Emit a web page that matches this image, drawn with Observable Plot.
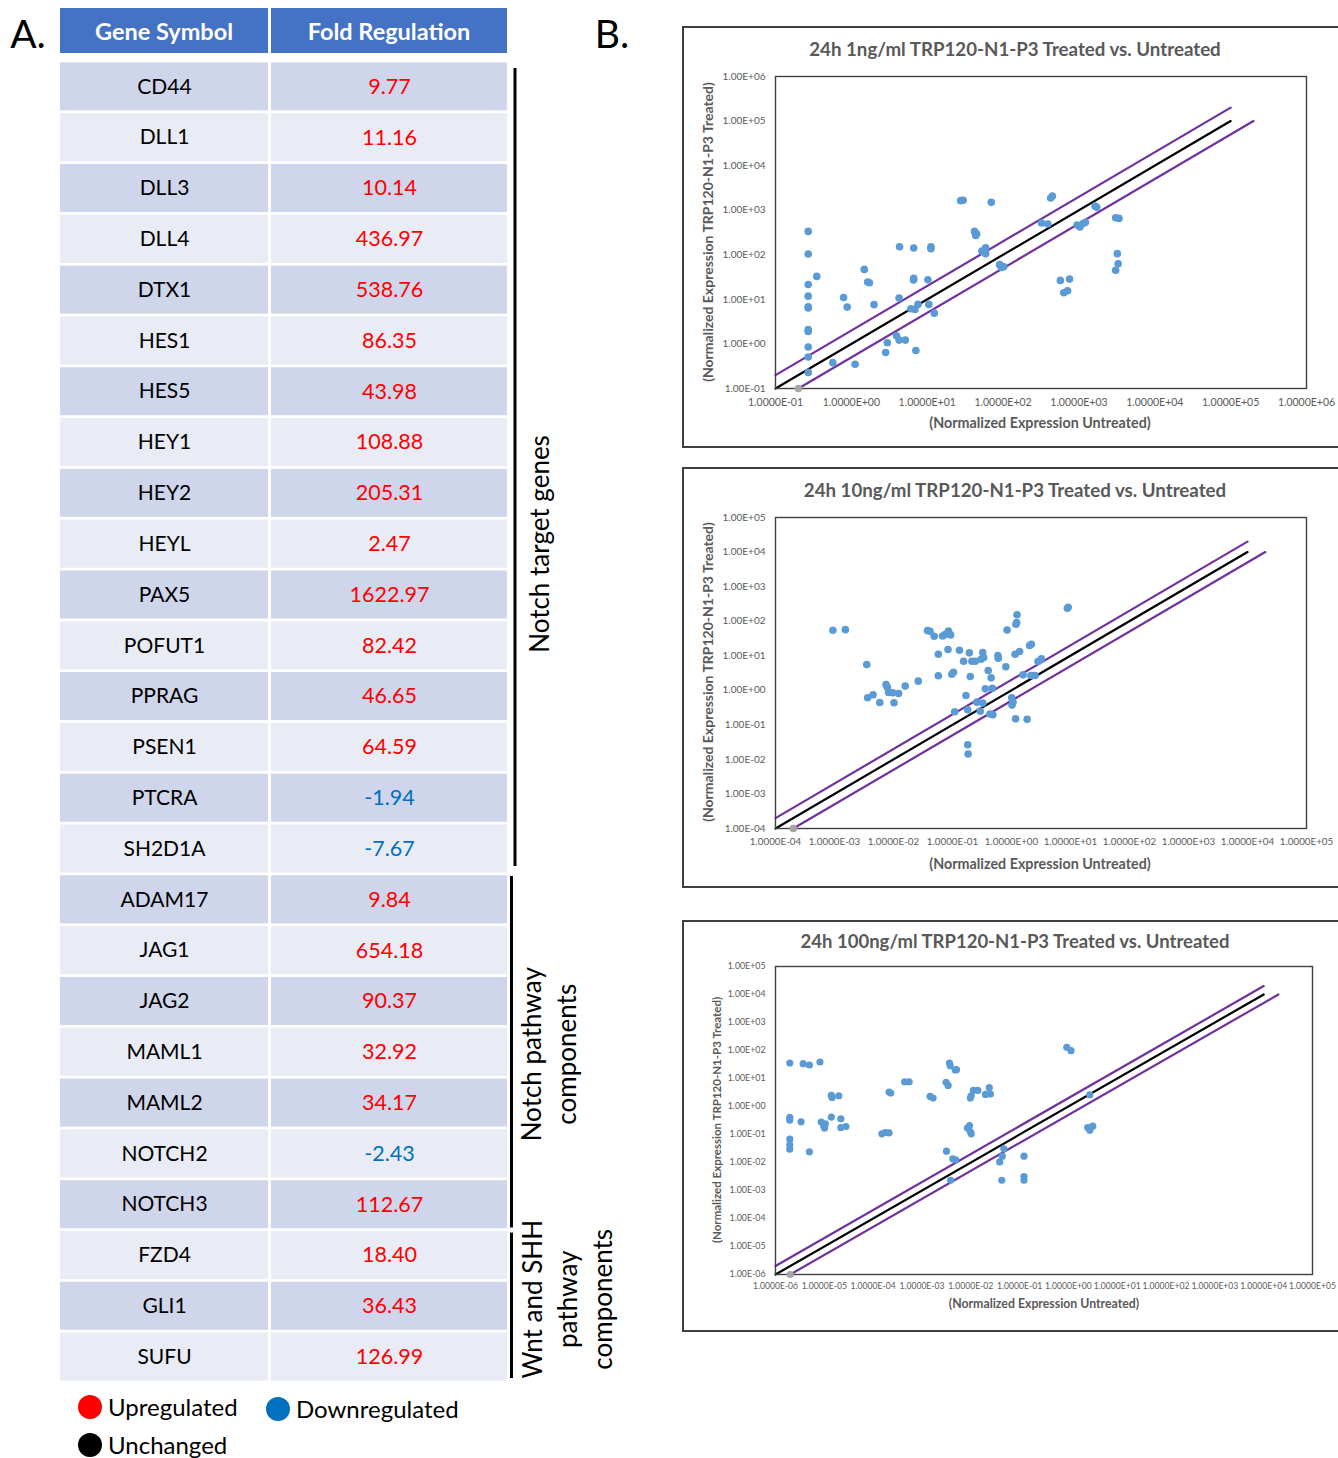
<!DOCTYPE html>
<html>
<head>
<meta charset="utf-8">
<script src="https://cdn.jsdelivr.net/npm/d3@7"></script>
<script src="https://cdn.jsdelivr.net/npm/@observablehq/plot@0.6"></script>
<style>
  html, body { margin: 0; padding: 0; background: #fff; overflow: hidden; }
  #root { position: relative; width: 1338px; height: 1458px; overflow: hidden; background: #fff; font-family: Lato, "Open Sans", sans-serif; }
  #root svg { overflow: visible; }
</style>
</head>
<body>
<div id="root"></div>
<script>
// ---------------- DATA ----------------
const genes = ["CD44","DLL1","DLL3","DLL4","DTX1","HES1","HES5","HEY1","HEY2","HEYL","PAX5","POFUT1","PPRAG","PSEN1","PTCRA","SH2D1A","ADAM17","JAG1","JAG2","MAML1","MAML2","NOTCH2","NOTCH3","FZD4","GLI1","SUFU"];
const foldRegulation = [9.77,11.16,10.14,436.97,538.76,86.35,43.98,108.88,205.31,2.47,1622.97,82.42,46.65,64.59,-1.94,-7.67,9.84,654.18,90.37,32.92,34.17,-2.43,112.67,18.40,36.43,126.99];
const tableHeaders = ["Gene Symbol", "Fold Regulation"];
const groupLabels = ["Notch target genes", "Notch pathway\ncomponents", "Wnt and SHH\npathway\ncomponents"];
const groupSizes = [16, 7, 3];
const legendLabels = ["Upregulated", "Downregulated", "Unchanged"];
const legendColors = ["#FF0000", "#0070C0", "#000000"];

// Panel 1: 24h 1ng/ml
const p1Untreated = [0.27,0.27,0.35,0.27,0.27,0.27,0.27,0.27,0.27,0.27,0.27,0.27,0.57,1.12,0.79,0.88,1.48,1.64,1.73,1.99,2.83,2.98,3.94,4.26,5.15,4.26,4.32,6.64,6.08,6.64,6.6,6.9,7.55,7.08,10.2,10.5,11.2,11.2,12.4,27.6,29.8,70,42,44.8,43.6,52.5,58.9,58.9,90,95,102,321,389,424,447,569,631,708,752,946,1033,1148,1219,1633,1718,3048,3373,3206,3289,3048];
const p1Treated   = [335,104,32.7,21.6,11.8,6.8,6.4,2.1,1.9,0.85,0.51,0.23,0.38,0.35,11.0,6.7,47,24.4,23.6,7.6,0.64,1.06,1.52,1.22,1.22,10.7,152,142,6.15,29.5,27.1,5.9,7.7,0.71,27.5,7.7,152,137,4.9,1637,1667,1503,335,297,272,121,144,106,60,52,54,516,490,1879,2080,26.6,14.1,15.6,28.5,466,420,507,535,1242,1159,679,656,106,63,44.7];
const p1GrayX = [0.2], p1GrayY = [0.1];
const p1Ticks = [0.1,1,10,100,1e3,1e4,1e5,1e6];
const p1XTickLabels = ["1.0000E-01","1.0000E+00","1.0000E+01","1.0000E+02","1.0000E+03","1.0000E+04","1.0000E+05","1.0000E+06"];
const p1YTickLabels = ["1.00E-01","1.00E+00","1.00E+01","1.00E+02","1.00E+03","1.00E+04","1.00E+05","1.00E+06"];
const p1CenterX = [0.1, 1e5], p1CenterY = [0.1, 1e5];
const p1UpperX = [0.1, 1e5], p1UpperY = [0.2, 2e5];
const p1LowerX = [0.2, 2e5], p1LowerY = [0.1, 1e5];

// Panel 2: 24h 10ng/ml
const p2Untreated = [0.00094,0.00153,0.00352,0.00364,0.00451,0.00585,0.00748,0.00785,0.00824,0.0097,0.0102,0.0122,0.0158,0.0263,0.0377,0.0416,0.049,0.0575,0.0575,0.0679,0.0748,0.0839,0.0853,0.0927,0.0973,0.104,0.109,0.131,0.154,0.169,0.181,0.181,0.184,0.193,0.2,0.213,0.243,0.259,0.295,0.305,0.326,0.326,0.337,0.36,0.403,0.431,0.452,0.474,0.483,0.587,0.597,0.802,0.841,1.01,1.02,1.06,1.15,1.17,1.19,1.22,1.24,1.37,1.57,1.84,2.03,2.17,2.13,2.51,2.82,3.21,8.85,9.14];
const p2Treated   = [54.5,56.9,5.56,0.605,0.74,0.445,1.47,1.23,0.863,0.845,0.435,0.809,1.32,1.84,53.3,50.9,36.6,11.0,2.62,37.4,40.8,15.1,52.1,40.0,2.92,3.34,0.239,14.4,6.93,0.708,0.273,0.0266,0.0143,12.1,2.5,6.93,6.93,0.454,0.249,7.93,12.4,0.425,8.85,1.1,3.73,0.205,2.29,1.15,0.196,10.1,8.47,4.76,55.7,0.605,0.372,0.454,11.0,0.15,81.3,90.8,154,13.2,2.8,0.144,19.7,21.5,2.67,2.67,6.79,8.11,236,251];
const p2GrayX = [2e-4], p2GrayY = [1e-4];
const p2Ticks = [1e-4,1e-3,1e-2,1e-1,1,10,100,1e3,1e4,1e5];
const p2XTickLabels = ["1.0000E-04","1.0000E-03","1.0000E-02","1.0000E-01","1.0000E+00","1.0000E+01","1.0000E+02","1.0000E+03","1.0000E+04","1.0000E+05"];
const p2YTickLabels = ["1.00E-04","1.00E-03","1.00E-02","1.00E-01","1.00E+00","1.00E+01","1.00E+02","1.00E+03","1.00E+04","1.00E+05"];
const p2CenterX = [1e-4, 1e4], p2CenterY = [1e-4, 1e4];
const p2UpperX = [1e-4, 1e4], p2UpperY = [2e-4, 2e4];
const p2LowerX = [2e-4, 2e4], p2LowerY = [1e-4, 1e4];

// Panel 3: 24h 100ng/ml
const p3Untreated = [1.96e-6,3.69e-6,4.95e-6,8.13e-6,1.96e-6,1.96e-6,3.34e-6,1.96e-6,1.96e-6,1.96e-6,4.95e-6,8.63e-6,9.7e-6,1.01e-5,1.05e-5,1.39e-5,1.39e-5,1.44e-5,1.98e-5,2.18e-5,2.18e-5,2.77e-5,1.51e-4,1.77e-4,2.12e-4,2.12e-4,2.29e-4,4.41e-4,5.47e-4,1.47e-3,1.69e-3,3.12e-3,3.44e-3,3.18e-3,3.65e-3,3.79e-3,3.87e-3,4.28e-3,4.91e-3,4.81e-3,5.1e-3,8.53e-3,9.42e-3,9.8e-3,0.0102,9.8e-3,0.0102,0.0113,0.014,0.02,0.0239,0.0253,0.0391,0.0432,0.0441,0.0476,0.123,0.123,0.123,0.925,1.13,2.74,2.48,2.74,3.15];
const p3Treated   = [35.8,33.9,30.3,38.9,0.406,0.326,0.284,0.068,0.0427,0.0299,0.024,0.277,0.21,0.169,0.241,0.418,2.49,2.11,2.42,0.364,0.178,0.193,0.106,0.118,0.115,3.28,3.02,7.67,7.67,2.29,2.0,7.28,5.68,0.0253,35.8,28.7,0.00232,0.0135,0.0124,20.1,20.7,0.169,0.21,0.128,0.106,2.0,2.42,3.76,3.76,2.7,4.69,2.78,0.0105,0.00232,0.0168,0.0307,0.0168,0.00313,0.00232,130,98.9,2.63,0.178,0.143,0.199];
const p3GrayX = [2e-6], p3GrayY = [1e-6];
const p3Ticks = [1e-6,1e-5,1e-4,1e-3,1e-2,1e-1,1,10,100,1e3,1e4,1e5];
const p3XTickLabels = ["1.0000E-06","1.0000E-05","1.0000E-04","1.0000E-03","1.0000E-02","1.0000E-01","1.0000E+00","1.0000E+01","1.0000E+02","1.0000E+03","1.0000E+04","1.0000E+05"];
const p3YTickLabels = ["1.00E-06","1.00E-05","1.00E-04","1.00E-03","1.00E-02","1.00E-01","1.00E+00","1.00E+01","1.00E+02","1.00E+03","1.00E+04","1.00E+05"];
const p3CenterX = [1e-6, 1e4], p3CenterY = [1e-6, 1e4];
const p3UpperX = [1e-6, 1e4], p3UpperY = [2e-6, 2e4];
const p3LowerX = [2e-6, 2e4], p3LowerY = [1e-6, 1e4];

const panelTitles = ["24h 1ng/ml TRP120-N1-P3 Treated vs. Untreated", "24h 10ng/ml TRP120-N1-P3 Treated vs. Untreated", "24h 100ng/ml TRP120-N1-P3 Treated vs. Untreated"];
const yAxisTitle = "(Normalized Expression TRP120-N1-P3 Treated)";
const xAxisTitle = "(Normalized Expression Untreated)";

// ---------------- HELPERS ----------------
const root = document.getElementById("root");
const FONT = "Lato, 'Open Sans', sans-serif";

function put(el, left, top) {
  el.style.position = "absolute";
  el.style.left = left + "px";
  el.style.top = top + "px";
  root.appendChild(el);
  return el;
}
function textAt(str, cx, cy, css, rotate = 0) {
  const d = document.createElement("div");
  d.textContent = str;
  d.style.cssText = `position:absolute;left:${cx}px;top:${cy}px;white-space:nowrap;line-height:1;transform:translate(-50%,-50%) rotate(${rotate}deg);font-family:${FONT};` + css;
  root.appendChild(d);
  return d;
}
function box(left, top, width, height, css) {
  const d = document.createElement("div");
  d.style.cssText = `position:absolute;left:${left}px;top:${top}px;width:${width}px;height:${height}px;box-sizing:border-box;` + css;
  root.appendChild(d);
  return d;
}

// ---------------- PANEL LETTERS ----------------
textAt("A.", 28, 33, "font-size:39px;color:#000;");
textAt("B.", 612, 33, "font-size:39px;color:#000;");

// ---------------- TABLE ----------------
const rows = genes.map((g, i) => ({gene: g, fold: foldRegulation[i], i}));
const ROW_TOP = 61, ROW_H = 1321;
const cols = [{left: 60, width: 208}, {left: 271, width: 236}];

// header cells
tableHeaders.forEach((h, k) => {
  const d = box(cols[k].left, 8, cols[k].width, 45, `background:#4472C4;color:#fff;font-family:${FONT};font-weight:bold;font-size:23.5px;display:flex;align-items:center;justify-content:center;`);
  d.textContent = h;
});

function columnPlot(width, textMarks) {
  return Plot.plot({
    width, height: ROW_H,
    marginTop: 0, marginBottom: 0, marginLeft: 0, marginRight: 0,
    y: {domain: genes, paddingInner: 0.055, paddingOuter: 0.0275, round: false, axis: null},
    style: {fontFamily: FONT, background: "transparent", overflow: "visible"},
    marks: [
      Plot.cell(rows.filter(r => r.i % 2 === 0), {y: "gene", fill: "#CFD5EA"}),
      Plot.cell(rows.filter(r => r.i % 2 === 1), {y: "gene", fill: "#E9EBF5"}),
      ...textMarks
    ]
  });
}
put(columnPlot(cols[0].width, [
  Plot.text(rows, {y: "gene", text: "gene", fill: "#000", fontSize: 21})
]), cols[0].left, ROW_TOP);
put(columnPlot(cols[1].width, [
  Plot.text(rows.filter(r => r.fold > 0), {y: "gene", text: r => r.fold.toFixed(2), fill: "#FF0000", fontSize: 21.5}),
  Plot.text(rows.filter(r => r.fold < 0), {y: "gene", text: r => r.fold.toFixed(2), fill: "#0070C0", fontSize: 21.5})
]), cols[1].left, ROW_TOP);

// group brackets
let acc = 0;
const groupData = groupLabels.map((label, k) => {
  const g = {label, start: acc, end: acc + groupSizes[k], mid: acc + groupSizes[k] / 2};
  acc += groupSizes[k];
  return g;
});
const bracketPlot = Plot.plot({
  width: 130, height: ROW_H,
  marginLeft: 13, marginRight: 0, marginTop: 0, marginBottom: 0,
  x: {domain: [0, 1], axis: null},
  y: {domain: [0, genes.length], reverse: true, axis: null},
  style: {fontFamily: FONT, background: "transparent", overflow: "visible"},
  marks: [
    Plot.ruleX([groupData[0]], {x: 0, y1: "start", y2: "end", dx: 1.5, stroke: "#000", strokeWidth: 3, insetTop: 7, insetBottom: 8}),
    Plot.ruleX([groupData[1]], {x: 0, y1: "start", y2: "end", dx: -2, stroke: "#000", strokeWidth: 3, insetTop: 2, insetBottom: 2}),
    Plot.ruleX([groupData[2]], {x: 0, y1: "start", y2: "end", dx: -2, stroke: "#000", strokeWidth: 3, insetTop: 3, insetBottom: 4}),
    Plot.text([groupData[0]], {x: 0, y: "mid", text: "label", rotate: -90, dx: 24, dy: 76, fontSize: 26, lineHeight: 1.35, fill: "#000"}),
    Plot.text([groupData[1]], {x: 0, y: "mid", text: "label", rotate: -90, dx: 34, dy: 2, fontSize: 26, lineHeight: 1.35, fill: "#000"}),
    Plot.text([groupData[2]], {x: 0, y: "mid", text: "label", rotate: -90, dx: 52, dy: -7, fontSize: 26, lineHeight: 1.35, fill: "#000"})
  ]
});
put(bracketPlot, 500, ROW_TOP);

// legend
const legendPos = [[90, 1407], [278, 1409], [90, 1445]];
legendLabels.forEach((lab, k) => {
  const [cx, cy] = legendPos[k];
  box(cx - 12, cy - 12, 24, 24, `border-radius:50%;background:${legendColors[k]};`);
  const t = document.createElement("div");
  t.textContent = lab;
  t.style.cssText = `position:absolute;left:${cx + 18}px;top:${cy}px;transform:translateY(-50%);font-family:${FONT};font-size:24px;line-height:1;color:#000;white-space:nowrap;`;
  root.appendChild(t);
});

// ---------------- SCATTER PANELS ----------------
function scatterPanel(cfg) {
  const pts = cfg.xs.map((x, i) => ({x, y: cfg.ys[i]}));
  const gray = cfg.grayX.map((x, i) => ({x, y: cfg.grayY[i]}));
  const xLab = new Map(cfg.ticks.map((t, i) => [t, cfg.xLabels[i]]));
  const yLab = new Map(cfg.ticks.map((t, i) => [t, cfg.yLabels[i]]));
  const seg = (xs, ys) => xs.map((x, i) => ({x, y: ys[i]}));
  return Plot.plot({
    width: cfg.width, height: cfg.height,
    marginLeft: cfg.m[0], marginRight: cfg.m[1], marginTop: cfg.m[2], marginBottom: cfg.m[3],
    x: {type: "log", domain: cfg.domain, label: null},
    y: {type: "log", domain: cfg.domain, label: null},
    style: {fontFamily: FONT, background: "transparent", overflow: "visible"},
    marks: [
      Plot.axisX(cfg.ticks, {tickSize: 0, tickPadding: cfg.xPad, tickFormat: d => xLab.get(d), fontSize: cfg.xFont, fill: "#595959", label: null}),
      Plot.axisY(cfg.ticks, {tickSize: 0, tickPadding: cfg.yPad, tickFormat: d => yLab.get(d), fontSize: cfg.yFont, fill: "#595959", label: null}),
      Plot.line(seg(cfg.upper[0], cfg.upper[1]), {x: "x", y: "y", stroke: "#7030A0", strokeWidth: 2.2}),
      Plot.line(seg(cfg.lower[0], cfg.lower[1]), {x: "x", y: "y", stroke: "#7030A0", strokeWidth: 2.2}),
      Plot.line(seg(cfg.center[0], cfg.center[1]), {x: "x", y: "y", stroke: "#000", strokeWidth: 2.2}),
      Plot.frame({stroke: "#404040", strokeWidth: 1.4}),
      Plot.dot(gray, {x: "x", y: "y", r: cfg.r, fill: "#A5A5A5"}),
      Plot.dot(pts, {x: "x", y: "y", r: cfg.r, fill: "#5B9BD5"})
    ]
  });
}

const panels = [
  {boxTop: 26, boxH: 422, top: 28, width: 654, height: 418, m: [91, 32, 48, 58],
   xs: p1Untreated, ys: p1Treated, grayX: p1GrayX, grayY: p1GrayY, domain: [0.1, 1e6],
   ticks: p1Ticks, xLabels: p1XTickLabels, yLabels: p1YTickLabels,
   center: [p1CenterX, p1CenterY], upper: [p1UpperX, p1UpperY], lower: [p1LowerX, p1LowerY],
   xFont: 10.5, yFont: 10, xPad: 10, yPad: 10, r: 3.8,
   title: [1015, 49, 18.7], ylab: [708, 232, 14], xlab: [1040, 423, 14.3]},
  {boxTop: 467, boxH: 421, top: 469, width: 654, height: 418, m: [91, 32, 48, 59],
   xs: p2Untreated, ys: p2Treated, grayX: p2GrayX, grayY: p2GrayY, domain: [1e-4, 1e5],
   ticks: p2Ticks, xLabels: p2XTickLabels, yLabels: p2YTickLabels,
   center: [p2CenterX, p2CenterY], upper: [p2UpperX, p2UpperY], lower: [p2LowerX, p2LowerY],
   xFont: 9.8, yFont: 10, xPad: 10, yPad: 10, r: 3.8,
   title: [1015, 490, 18.7], ylab: [708, 672, 14], xlab: [1040, 864, 14.3]},
  {boxTop: 920, boxH: 412, top: 922, width: 654, height: 408, m: [91, 26, 44, 56],
   xs: p3Untreated, ys: p3Treated, grayX: p3GrayX, grayY: p3GrayY, domain: [1e-6, 1e5],
   ticks: p3Ticks, xLabels: p3XTickLabels, yLabels: p3YTickLabels,
   center: [p3CenterX, p3CenterY], upper: [p3UpperX, p3UpperY], lower: [p3LowerX, p3LowerY],
   xFont: 8.6, yFont: 8.8, xPad: 8, yPad: 10, r: 3.6,
   title: [1015, 941, 18.5], ylab: [717, 1120, 11.5], xlab: [1044, 1304, 12.3]}
];

panels.forEach((p, k) => {
  box(682, p.boxTop, 700, p.boxH, "border:2px solid #3f3f3f;");
  put(scatterPanel(p), 684, p.top);
  textAt(panelTitles[k], p.title[0], p.title[1], `font-size:${p.title[2]}px;font-weight:bold;color:#595959;`);
  textAt(yAxisTitle, p.ylab[0], p.ylab[1], `font-size:${p.ylab[2]}px;font-weight:bold;color:#595959;`, -90);
  textAt(xAxisTitle, p.xlab[0], p.xlab[1], `font-size:${p.xlab[2]}px;font-weight:bold;color:#595959;`);
});
</script>
</body>
</html>
